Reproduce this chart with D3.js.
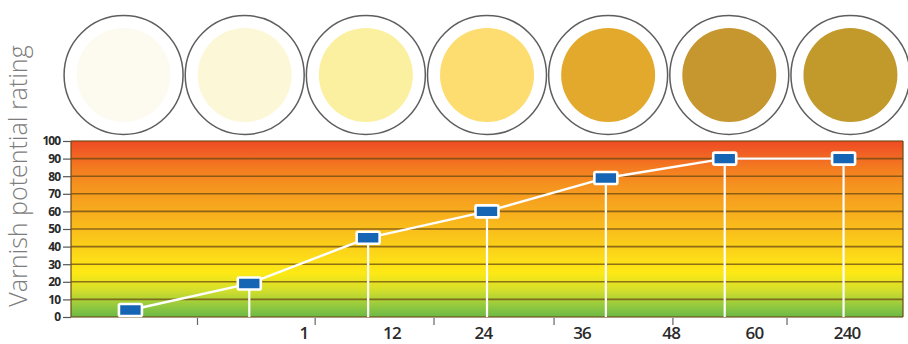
<!DOCTYPE html>
<html>
<head>
<meta charset="utf-8">
<script src="https://cdn.jsdelivr.net/npm/d3@7"></script>
<style>
  html, body { margin: 0; padding: 0; background: #fff; }
  svg { display: block; }
</style>
</head>
<body>
<svg id="chart" width="908" height="344"></svg>
<script>
// ---- data ----
const samples = ["S1", "S2", "S3", "S4", "S5", "S6", "S7"];
const ratings = [4, 19, 45, 60, 79, 90, 90];
const swatchColors = ["#fdfaf0", "#fcf7d6", "#fbf0a0", "#fddc70", "#e2a92c", "#c6962f", "#c2992b"];
const yTicks = [0, 10, 20, 30, 40, 50, 60, 70, 80, 90, 100];
const xTickLabels = ["1", "12", "24", "36", "48", "60", "240"];
const xLabelAt = [1.96, 2.70, 3.47, 4.30, 5.05, 5.75, 6.53];
const xTickMarksAt = [1.06, 2.05, 3.05, 4.06, 5.06, 6.02];
const bandStops = [
  [100, "#ee4b23"], [95, "#f05a24"], [85, "#f47a20"], [75, "#f5921f"],
  [65, "#f7a41e"], [55, "#f8b51c"], [45, "#fac61a"], [35, "#fcd918"],
  [25, "#fde915"], [15, "#d2de2c"], [5, "#8ac641"], [0, "#6cb846"]
];

// ---- layout ----
const svg = d3.select("#chart");
const plot = { left: 71, right: 903, top: 141, bottom: 317 };

const x = d3.scaleLinear().domain([0, 7]).range([plot.left, plot.right]);
const y = d3.scaleLinear().domain([0, 100]).range([plot.bottom, plot.top]);
const circleX = d3.scaleBand().domain(samples).range([63, 911]);

// gradient
const defs = svg.append("defs");
const grad = defs.append("linearGradient")
  .attr("id", "bg").attr("gradientUnits", "userSpaceOnUse")
  .attr("x1", 0).attr("x2", 0).attr("y1", y(100)).attr("y2", y(0));
grad.selectAll("stop").data(bandStops).join("stop")
  .attr("offset", d => (100 - d[0]) / 100)
  .attr("stop-color", d => d[1]);

// swatches
const sw = svg.append("g");
sw.selectAll("circle.ring").data(samples).join("circle")
  .attr("class", "ring")
  .attr("cx", d => circleX(d) + circleX.bandwidth() / 2)
  .attr("cy", 75).attr("r", 59.5)
  .attr("fill", "#fff").attr("stroke", "#5e5e5e").attr("stroke-width", 1.5);
sw.selectAll("circle.fill").data(samples).join("circle")
  .attr("class", "fill")
  .attr("cx", d => circleX(d) + circleX.bandwidth() / 2)
  .attr("cy", 75).attr("r", 47)
  .attr("fill", (d, i) => swatchColors[i]);

// background
svg.append("rect")
  .attr("x", plot.left).attr("y", plot.top)
  .attr("width", plot.right - plot.left).attr("height", plot.bottom - plot.top)
  .attr("fill", "url(#bg)");

// gridlines
svg.append("g").selectAll("line").data(yTicks).join("line")
  .attr("x1", plot.left).attr("x2", plot.right)
  .attr("y1", d => y(d)).attr("y2", d => y(d))
  .attr("stroke", "#6b4a14").attr("stroke-opacity", 0.75).attr("stroke-width", 1.6);

// frame sides
svg.append("line").attr("x1", plot.left).attr("x2", plot.left)
  .attr("y1", plot.top).attr("y2", plot.bottom)
  .attr("stroke", "#6b4a14").attr("stroke-opacity", 0.75).attr("stroke-width", 1.6);
svg.append("line").attr("x1", plot.right).attr("x2", plot.right)
  .attr("y1", plot.top).attr("y2", plot.bottom)
  .attr("stroke", "#6b4a14").attr("stroke-opacity", 0.75).attr("stroke-width", 1.6);

// y axis
const yAxis = d3.axisLeft(y).tickValues(yTicks).tickSize(8).tickPadding(3);
const gy = svg.append("g").attr("transform", `translate(${plot.left},0)`).call(yAxis);
gy.select(".domain").remove();
gy.selectAll(".tick line").attr("stroke", "#555").attr("stroke-width", 1.2);
gy.selectAll(".tick text")
  .attr("fill", "#2a2a2a")
  .style("font-family", "'Open Sans', sans-serif")
  .style("font-weight", 700).style("font-size", "12px")
  .style("letter-spacing", "-1px");

// x tick marks
const xAxis = d3.axisBottom(x).tickValues(xTickMarksAt).tickSize(7).tickFormat("");
const gx = svg.append("g").attr("transform", `translate(0,${plot.bottom + 1})`).call(xAxis);
gx.select(".domain").remove();
gx.selectAll(".tick line").attr("stroke", "#666").attr("stroke-width", 1.2);

// x labels
svg.append("g").selectAll("text").data(xTickLabels).join("text")
  .attr("x", (d, i) => x(xLabelAt[i]))
  .attr("y", 339)
  .attr("text-anchor", "middle")
  .attr("fill", "#2a2a2a")
  .style("font-family", "'Open Sans', sans-serif")
  .style("font-weight", 600).style("font-size", "17px")
  .style("letter-spacing", "-0.8px")
  .text(d => d);

// y title
svg.append("text")
  .attr("transform", `translate(27,176) rotate(-90)`)
  .attr("text-anchor", "middle")
  .attr("fill", "#7d7d7d")
  .style("font-family", "'Open Sans', sans-serif")
  .style("font-weight", 300).style("font-size", "25px")
  .text("Varnish potential rating");

// vertical drop lines
const px = (d, i) => x(i + 0.5);
svg.append("g").selectAll("line").data(ratings).join("line")
  .attr("x1", px).attr("x2", px)
  .attr("y1", d => y(d)).attr("y2", y(0))
  .attr("stroke", "#fff").attr("stroke-width", 2.2);

// connecting line
const line = d3.line().x(px).y(d => y(d));
svg.append("path").datum(ratings)
  .attr("d", line).attr("fill", "none")
  .attr("stroke", "#fff").attr("stroke-width", 2.4);

// markers
svg.append("g").selectAll("rect").data(ratings).join("rect")
  .attr("x", (d, i) => px(d, i) - 11.5)
  .attr("y", d => y(d) - 6)
  .attr("width", 23).attr("height", 12)
  .attr("rx", 1.5)
  .attr("fill", "#1565b4")
  .attr("stroke", "#fff").attr("stroke-width", 2.6);
</script>
</body>
</html>
